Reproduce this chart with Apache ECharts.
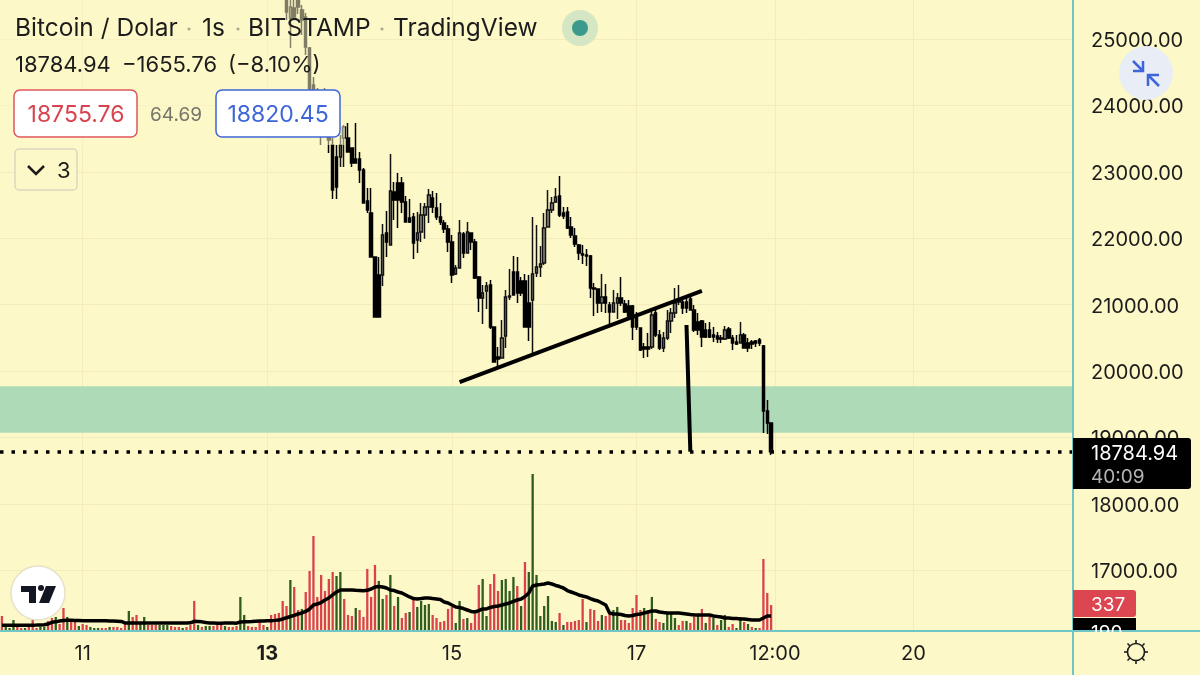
<!DOCTYPE html>
<html>
<head>
<meta charset="utf-8">
<title>Bitcoin / Dolar</title>
<script src="https://cdn.jsdelivr.net/npm/echarts@6/dist/echarts.min.js"></script>
<style>
    html, body { margin: 0; padding: 0; background: #fdf8c7; }
    #main { width: 1200px; height: 675px; }
</style>
</head>
<body>
<div id="main"></div>
<script>
// hourly slots, 279 of them across the plot; only some carry a label
const slotCount = 279;
const tickSlots = [21, 69, 117, 165, 201, 237];
const tickLabels = ['11', '13', '15', '17', '12:00', '20'];

// first visible candle, everything before it is above the top of the picture
const candleStart = 74;
const candleOpen = [
    25587, 25316, 25467, 25587, 25437, 25331, 24864, 24307, 24156, 24006,
    23720, 23704, 23403, 23223, 23223, 23509, 23509, 23358, 23193, 23193,
    23027, 22560, 22379, 21717, 21446, 21446, 22078, 21897, 22695, 22831,
    22831, 22545, 22304, 22319, 21973, 22093, 22349, 22469, 22605, 22454,
    22319, 22229, 22138, 21942, 21461, 21551, 22063, 21777, 22078, 21942,
    21415, 21099, 21205, 21295, 20662, 20211, 20196, 20527, 21114, 21491,
    21491, 21355, 21355, 21024, 21069, 21476, 21566, 21626, 22168, 22425,
    22545, 22635, 22379, 22394, 22168, 22033, 21897, 21762, 21747, 21732,
    21250, 21235, 21024, 21114, 20994, 20888, 21024, 21099, 21009, 20979,
    20979, 20813, 20647, 20361, 20361, 20361, 20873, 20542, 20346, 20497,
    20753, 20873, 21039, 21039, 21039, 21084, 20919, 20738, 20753, 20617,
    20617, 20542, 20527, 20497, 20482, 20632, 20497, 20436, 20421, 20542,
    20421, 20436, 20451, 20467, 20376, 19397, 19217
];
const candleClose = [
    25406, 25482, 25331, 25482, 25286, 24879, 24232, 24081, 23931, 23704,
    23961, 23479, 22726, 22771, 23403, 23674, 23298, 23132, 23132, 23027,
    22530, 22425, 21717, 20813, 20813, 22048, 21942, 22711, 22575, 22575,
    22545, 22244, 22244, 21927, 22078, 22349, 22469, 22650, 22469, 22319,
    22244, 22138, 21942, 21446, 21551, 22078, 21777, 22093, 21942, 21400,
    21099, 21174, 21280, 20662, 20135, 20180, 20497, 21114, 21129, 21144,
    21174, 21174, 20662, 20662, 21461, 21566, 21611, 22153, 22425, 22530,
    22620, 22349, 22334, 22153, 22048, 21912, 21777, 21747, 21732, 21250,
    21235, 21024, 21114, 21024, 20888, 21024, 21099, 21024, 20888, 20828,
    20662, 20662, 20316, 20331, 20331, 20843, 20542, 20346, 20497, 20753,
    20873, 21024, 21084, 20949, 20949, 20919, 20617, 20617, 20512, 20512,
    20512, 20512, 20482, 20482, 20617, 20497, 20421, 20406, 20542, 20346,
    20346, 20406, 20421, 20421, 19397, 19217, 18784.94
];
const candleLow = [
    25286, 24864, 25286, 25376, 25060, 24759, 24232, 24006, 23810, 23403,
    23630, 23283, 22590, 22590, 23072, 23072, 23298, 23072, 23132, 22831,
    22530, 22379, 21717, 20813, 20813, 21280, 21717, 21897, 22274, 22153,
    22379, 22244, 22229, 21687, 21777, 21942, 21993, 22229, 22379, 22274,
    22199, 22078, 21792, 21325, 21446, 21551, 21702, 21777, 21822, 21385,
    20888, 20708, 20933, 20632, 20135, 20060, 20196, 20346, 21069, 21144,
    21024, 21129, 20662, 20451, 20241, 21415, 21415, 21596, 22168, 22379,
    22530, 22319, 22289, 22138, 22003, 21867, 21672, 21611, 21581, 21099,
    20828, 20873, 20888, 20873, 20708, 20888, 20783, 20979, 20873, 20798,
    20467, 20617, 20301, 20196, 20211, 20331, 20512, 20316, 20286, 20467,
    20572, 20798, 20994, 20858, 20873, 20919, 20587, 20542, 20361, 20497,
    20497, 20437, 20421, 20421, 20467, 20482, 20316, 20391, 20421, 20346,
    20286, 20331, 20361, 20376, 19066, 19051, 18735
];
const candleHigh = [
    25738, 25600, 25587, 25620, 25512, 25391, 24879, 24427, 24262, 24156,
    24262, 23855, 23509, 23403, 23554, 23704, 23735, 23358, 23735, 23298,
    23057, 22756, 22756, 21717, 21717, 22214, 22409, 23268, 22846, 22982,
    22921, 22635, 22590, 22379, 22394, 22530, 22530, 22741, 22711, 22680,
    22530, 22274, 22199, 22048, 21596, 22274, 22093, 22244, 22078, 21988,
    21431, 21295, 21340, 21371, 20662, 20361, 20768, 21220, 21536, 21732,
    21717, 21415, 21461, 21446, 22319, 22199, 21882, 22379, 22726, 22620,
    22756, 22936, 22469, 22469, 22319, 22153, 21912, 21897, 21837, 21747,
    21325, 21235, 21461, 21310, 21039, 21220, 21174, 21415, 21069, 21069,
    20994, 20888, 20647, 20421, 20572, 20888, 20949, 20617, 20587, 20919,
    20949, 21250, 21295, 21099, 21099, 21114, 20994, 20873, 20768, 20723,
    20738, 20662, 20587, 20542, 20677, 20662, 20542, 20542, 20738, 20572,
    20497, 20467, 20467, 20497, 20391, 19563, 19217
];

const volumes = [
    189, 41, 27, 135, 41, 27, 27, 41, 135, 27,
    41, 41, 122, 162, 176, 81, 297, 176, 108, 108,
    54, 81, 68, 41, 27, 27, 27, 27, 41, 41,
    41, 27, 81, 257, 176, 203, 95, 176, 68, 68,
    68, 68, 68, 68, 54, 41, 41, 27, 41, 68,
    392, 68, 41, 54, 54, 54, 68, 68, 54, 41,
    41, 54, 446, 203, 54, 41, 41, 135, 68, 41,
    203, 216, 230, 392, 324, 675, 581, 270, 284, 513,
    797, 1269, 446, 743, 527, 689, 783, 729, 783, 419,
    203, 189, 297, 270, 176, 824, 446, 878, 662, 419,
    473, 743, 324, 446, 162, 230, 243, 405, 311, 392,
    338, 351, 203, 162, 108, 122, 284, 311, 95, 392,
    149, 162, 95, 216, 608, 689, 189, 621, 756, 527,
    675, 689, 527, 716, 594, 324, 918, 783, 2106, 743,
    189, 324, 459, 122, 108, 230, 68, 108, 108, 122,
    135, 419, 108, 284, 270, 122, 203, 189, 216, 270,
    311, 135, 135, 95, 297, 473, 270, 297, 270, 446,
    149, 108, 95, 216, 216, 162, 68, 122, 122, 95,
    176, 189, 284, 95, 176, 162, 68, 135, 203, 41,
    81, 27, 176, 108, 81, 41, 27, 27, 959, 500,
    337
];
// 1 = red bar, 0 = green bar
const volumeRed = [
    1, 0, 0, 0, 1, 1, 0, 1, 1, 1,
    0, 0, 1, 1, 0, 1, 1, 0, 1, 1,
    0, 1, 1, 0, 0, 0, 1, 1, 0, 1,
    1, 1, 1, 0, 1, 1, 0, 0, 1, 1,
    1, 0, 0, 0, 1, 1, 1, 0, 1, 1,
    1, 0, 1, 0, 0, 1, 1, 1, 0, 1,
    1, 1, 0, 0, 1, 1, 1, 1, 1, 0,
    1, 1, 1, 1, 1, 0, 1, 1, 0, 1,
    1, 1, 1, 1, 1, 1, 1, 0, 0, 1,
    1, 1, 0, 1, 1, 1, 1, 1, 0, 0,
    1, 0, 1, 0, 1, 1, 0, 1, 0, 0,
    0, 0, 1, 1, 1, 1, 1, 1, 0, 0,
    1, 0, 1, 1, 1, 0, 0, 1, 1, 1,
    0, 0, 0, 0, 1, 0, 1, 0, 0, 0,
    0, 0, 0, 0, 0, 1, 0, 1, 1, 1,
    1, 1, 0, 1, 1, 1, 0, 1, 1, 0,
    0, 1, 1, 1, 1, 1, 1, 0, 1, 0,
    1, 1, 0, 0, 0, 0, 1, 1, 0, 1,
    1, 0, 1, 0, 1, 0, 1, 0, 0, 1,
    1, 0, 0, 1, 0, 1, 0, 1, 1, 1,
    1
];
const volumeMa = [
    64, 64, 64, 63, 63, 63, 64, 64, 65, 66,
    68, 72, 81, 104, 110, 122, 128, 131, 131, 129,
    128, 126, 126, 126, 125, 125, 125, 124, 122, 120,
    118, 115, 95, 95, 95, 95, 96, 95, 95, 94,
    95, 96, 95, 96, 95, 94, 95, 95, 96, 97,
    117, 115, 110, 100, 96, 95, 92, 92, 94, 95,
    94, 92, 108, 112, 113, 115, 118, 120, 122, 124,
    126, 130, 135, 149, 166, 182, 198, 216, 230, 250,
    284, 337, 351, 371, 405, 432, 473, 513, 540, 540,
    540, 540, 536, 533, 530, 536, 553, 580, 587, 580,
    567, 540, 533, 513, 500, 473, 446, 425, 419, 425,
    432, 432, 425, 419, 412, 378, 365, 337, 311, 304,
    290, 270, 250, 243, 263, 284, 284, 304, 317, 324,
    337, 351, 365, 385, 405, 419, 452, 500, 594, 608,
    614, 621, 635, 621, 601, 587, 567, 533, 513, 493,
    473, 459, 446, 425, 405, 392, 365, 337, 230, 216,
    216, 209, 196, 189, 196, 209, 216, 230, 243, 257,
    257, 243, 236, 230, 230, 230, 230, 223, 216, 209,
    203, 203, 203, 203, 203, 189, 182, 176, 162, 162,
    155, 155, 149, 149, 142, 135, 135, 135, 162, 189,
    190
];

const lastPrice = 18784.94;
const zoneLow = 19070;
const zoneHigh = 19770;
// [slot, price] pairs of the lines drawn by hand on the chart
const trendLine = [[119, 19834], [182, 21205]];
const dropLine = [[178, 20693], [179, 18785]];

const BG = '#fdf8c7';
const GRID = '#f3edbd';
const TEAL = '#70c6c6';
const RED = '#d9434e';
const GREEN = '#2f5c1f';
const BLUE = '#3f66d8';
const INK = '#1c1c1c';
const FONT = 'Inter';

const slots = [];
for (let i = 0; i < slotCount; i++) slots.push('h' + i);

const candleData = slots.map((s, i) => {
    const k = i - candleStart;
    if (k < 0 || k >= candleOpen.length) return ['-', '-', '-', '-'];
    return [candleOpen[k], candleClose[k], candleLow[k], candleHigh[k]];
});
const volumeData = volumes.map((v, i) => ({
    value: v,
    itemStyle: { color: volumeRed[i] ? RED : GREEN }
}));

function label(text, x, y, size, color, extra) {
    return {
        type: 'text', z: 120,
        style: Object.assign({
            text: text, x: x, y: y + 1, fill: color, font: size + 'px ' + FONT,
            verticalAlign: 'middle', align: 'left'
        }, extra || {})
    };
}
function box(x, y, w, h, fill, stroke, r) {
    return {
        type: 'rect', z: 110,
        shape: { x: x, y: y, width: w, height: h, r: r },
        style: { fill: fill, stroke: stroke, lineWidth: stroke ? 1.5 : 0 }
    };
}
function stroke(points, color, width) {
    return {
        type: 'polyline', z: 120,
        shape: { points: points },
        style: { stroke: color, lineWidth: width, fill: null }
    };
}
function poly(points, fill) {
    return { type: 'polygon', z: 121, shape: { points: points }, style: { fill: fill } };
}

const overlay = [
    // the legend area washes out whatever candles run under it
    { type: 'rect', z: 60, shape: { x: 0, y: 0, width: 345, height: 145 }, style: { fill: BG, opacity: 0.5 } },

    label('Bitcoin / Dolar', 15, 28, 24.5, INK),
    label('1s', 202, 28, 24.5, INK),
    label('BITSTAMP', 248, 28, 24.5, INK),
    label('TradingView', 393, 28, 24.5, INK),
    { type: 'circle', z: 120, shape: { cx: 189, cy: 29, r: 1.6 }, style: { fill: '#a9a995' } },
    { type: 'circle', z: 120, shape: { cx: 238, cy: 29, r: 1.6 }, style: { fill: '#a9a995' } },
    { type: 'circle', z: 120, shape: { cx: 382, cy: 29, r: 1.6 }, style: { fill: '#a9a995' } },
    { type: 'circle', z: 120, shape: { cx: 580, cy: 28, r: 18 }, style: { fill: '#d5e6c5' } },
    { type: 'circle', z: 121, shape: { cx: 580, cy: 28, r: 8 }, style: { fill: '#3c9a8d' } },

    label('18784.94', 15, 64, 22, INK),
    label('\u22121655.76', 122, 64, 22, INK),
    label('(\u22128.10%)', 228, 64, 22, INK),

    box(14, 90, 123, 47, '#ffffff', '#df5560', 6),
    label('18755.76', 76, 114, 23, RED, { align: 'center' }),
    label('64.69', 176, 114, 19, '#75756a', { align: 'center' }),
    box(216, 90, 124, 47, '#ffffff', BLUE, 6),
    label('18820.45', 278, 114, 23, BLUE, { align: 'center' }),

    box(15, 149, 62, 41, BG, '#d9d6c2', 4),
    stroke([[28, 166], [36, 174], [44, 166]], INK, 2.5),
    label('3', 57, 170, 22, INK),

    // TradingView badge
    { type: 'circle', z: 110, shape: { cx: 38, cy: 593, r: 27 }, style: { fill: '#ffffff', stroke: '#e6e1c8', lineWidth: 1.5 } },
    poly([[21, 586], [36, 586], [36, 603], [29, 603], [29, 592], [21, 592]], '#131722'),
    { type: 'circle', z: 121, shape: { cx: 41, cy: 588, r: 3 }, style: { fill: '#131722' } },
    poly([[46, 586], [56, 586], [49, 603], [39, 603]], '#131722'),

    // axis frame
    { type: 'rect', z: 100, shape: { x: 1072, y: 0, width: 2, height: 675 }, style: { fill: TEAL } },
    { type: 'rect', z: 100, shape: { x: 0, y: 630, width: 1200, height: 2 }, style: { fill: TEAL } },

    // compress button
    { type: 'circle', z: 110, shape: { cx: 1146, cy: 73, r: 27 }, style: { fill: '#e9edf6' } },
    stroke([[1133, 61], [1143, 71]], BLUE, 2.5),
    stroke([[1133, 71], [1143, 71], [1143, 61]], BLUE, 2.5),
    stroke([[1159, 86], [1148, 75]], BLUE, 2.5),
    stroke([[1148, 86], [1148, 75], [1159, 75]], BLUE, 2.5),

    // price tags
    { type: 'rect', z: 110, shape: { x: 1073, y: 438, width: 118, height: 51, r: [0, 3, 3, 0] }, style: { fill: '#000000' } },
    label('18784.94', 1091, 453, 20, '#ffffff'),
    label('40:09', 1091, 476, 19, '#b4b4b4'),
    { type: 'rect', z: 110, shape: { x: 1073, y: 590, width: 63, height: 27, r: [0, 3, 3, 0] }, style: { fill: '#dc4650' } },
    label('337', 1091, 604, 19, '#ffffff'),
    { type: 'rect', z: 110, shape: { x: 1073, y: 618, width: 63, height: 12 }, style: { fill: '#000000' } },
    label('190', 1091, 632, 19, '#ffffff'),
    { type: 'rect', z: 125, shape: { x: 1074, y: 632, width: 70, height: 8 }, style: { fill: BG } },

    // settings gear
    { type: 'circle', z: 120, shape: { cx: 1136, cy: 652, r: 8.5 }, style: { fill: null, stroke: INK, lineWidth: 1.6 } },
    stroke([[1136, 640], [1136, 643]], INK, 1.6),
    stroke([[1136, 661], [1136, 664]], INK, 1.6),
    stroke([[1124, 652], [1127, 652]], INK, 1.6),
    stroke([[1145, 652], [1148, 652]], INK, 1.6),
    stroke([[1127.5, 643.5], [1129.7, 645.7]], INK, 1.6),
    stroke([[1142.3, 658.3], [1144.5, 660.5]], INK, 1.6),
    stroke([[1127.5, 660.5], [1129.7, 658.3]], INK, 1.6),
    stroke([[1142.3, 645.7], [1144.5, 643.5]], INK, 1.6)
];

const chart = echarts.init(document.getElementById('main'), null, { renderer: 'canvas' });

const option = {
    animation: false,
    backgroundColor: BG,
    textStyle: { fontFamily: FONT },
    // price grid runs a little below the volume baseline so its ticks start on a round thousand
    grid: [
        { left: 0, width: 1073, top: 0, height: 636.6 },
        { left: 0, width: 1073, top: 0, height: 630 }
    ],
    xAxis: [
        {
            type: 'category', gridIndex: 0, data: slots,
            axisLine: { show: false }, axisTick: { show: false },
            axisLabel: { show: false }, splitLine: { show: false }
        },
        {
            type: 'category', gridIndex: 1, data: slots,
            axisLine: { show: false }, axisTick: { show: false },
            splitLine: { show: false },
            axisLabel: {
                margin: 14,
                fontSize: 20,
                fontFamily: FONT,
                color: INK,
                interval: (i) => tickSlots.includes(i),
                formatter: (v, i) => {
                    const k = tickSlots.indexOf(i);
                    if (k < 0) return '';
                    return tickLabels[k] === '13' ? '{b|13}' : tickLabels[k];
                },
                rich: { b: { fontSize: 20, fontWeight: 'bold', fontFamily: FONT, color: INK } }
            }
        }
    ],
    yAxis: [
        {
            type: 'value', gridIndex: 0, position: 'right',
            min: 16000, max: 25587, interval: 1000,
            axisLine: { show: false }, axisTick: { show: false },
            splitLine: { show: true, showMinLine: false, showMaxLine: false, lineStyle: { color: GRID, width: 1 } },
            axisLabel: {
                margin: 18, fontSize: 20, fontFamily: FONT, color: INK,
                verticalAlign: 'top', lineHeight: 4,
                showMinLabel: false, showMaxLabel: false,
                formatter: (v) => v.toFixed(2)
            }
        },
        {
            type: 'value', gridIndex: 1, min: 0, max: 8505,
            axisLine: { show: false }, axisTick: { show: false },
            axisLabel: { show: false }, splitLine: { show: false }
        }
    ],
    series: [
        {
            type: 'bar', name: 'Volume', xAxisIndex: 1, yAxisIndex: 1,
            barWidth: 2.3, z: 2, data: volumeData, silent: true,
            markLine: {
                silent: true, symbol: 'none', animation: false, z: 0,
                label: { show: false },
                lineStyle: { color: GRID, width: 1, type: 'solid' },
                data: tickSlots.map((s) => ({ xAxis: s }))
            }
        },
        {
            type: 'line', name: 'Volume MA', xAxisIndex: 1, yAxisIndex: 1,
            data: volumeMa, showSymbol: false, z: 3, silent: true,
            lineStyle: { color: '#000000', width: 3.5 }
        },
        {
            type: 'candlestick', name: 'Bitcoin / Dolar', xAxisIndex: 0, yAxisIndex: 0,
            data: candleData, barWidth: 3, z: 5, silent: true,
            itemStyle: {
                color: '#8a8a80', color0: '#000000',
                borderColor: '#111111', borderColor0: '#000000', borderWidth: 1.5
            },
            markArea: {
                silent: true, z: 1,
                itemStyle: { color: '#aedab8', opacity: 1 },
                data: [[{ yAxis: zoneLow }, { yAxis: zoneHigh }]]
            },
            markLine: {
                silent: true, symbol: 'none', animation: false, z: 6,
                label: { show: false },
                data: [
                    {
                        yAxis: lastPrice,
                        lineStyle: { color: '#000000', width: 3.5, type: [3.5, 8] }
                    },
                    [
                        { coord: trendLine[0], lineStyle: { color: '#000000', width: 4, type: 'solid' } },
                        { coord: trendLine[1] }
                    ],
                    [
                        { coord: dropLine[0], lineStyle: { color: '#000000', width: 4, type: 'solid' } },
                        { coord: dropLine[1] }
                    ]
                ]
            }
        }
    ],
    graphic: overlay
};

chart.setOption(option);
</script>
</body>
</html>
